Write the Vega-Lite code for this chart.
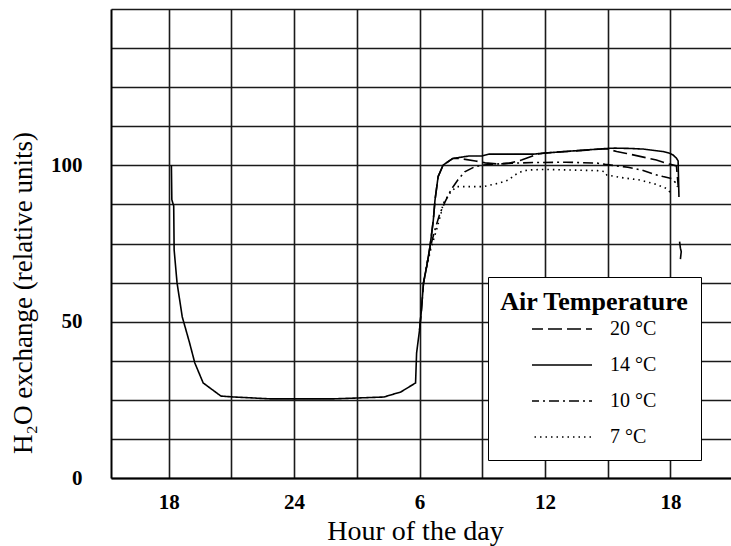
{
  "$schema": "https://vega.github.io/schema/vega-lite/v6.json",
  "width": 620,
  "height": 469,
  "autosize": {"type": "none"},
  "padding": {"left": 111, "top": 9, "right": 0, "bottom": 68},
  "background": "white",
  "config": {"view": {"stroke": null}, "font": "Liberation Serif"},
  "data": {"values": [
    {"i": 1, "h": 18.13, "v": 100.0, "temp": "14 °C", "seg": "a"},
    {"i": 2, "h": 18.15, "v": 89.0, "temp": "14 °C", "seg": "a"},
    {"i": 3, "h": 18.24, "v": 87.0, "temp": "14 °C", "seg": "a"},
    {"i": 4, "h": 18.26, "v": 73.0, "temp": "14 °C", "seg": "a"},
    {"i": 5, "h": 18.4, "v": 62.4, "temp": "14 °C", "seg": "a"},
    {"i": 6, "h": 18.65, "v": 51.5, "temp": "14 °C", "seg": "a"},
    {"i": 7, "h": 19.0, "v": 43.2, "temp": "14 °C", "seg": "a"},
    {"i": 8, "h": 19.25, "v": 36.8, "temp": "14 °C", "seg": "a"},
    {"i": 9, "h": 19.65, "v": 30.4, "temp": "14 °C", "seg": "a"},
    {"i": 10, "h": 20.5, "v": 26.2, "temp": "14 °C", "seg": "a"},
    {"i": 11, "h": 21.14, "v": 25.9, "temp": "14 °C", "seg": "a"},
    {"i": 12, "h": 22.9, "v": 25.3, "temp": "14 °C", "seg": "a"},
    {"i": 13, "h": 25.85, "v": 25.3, "temp": "14 °C", "seg": "a"},
    {"i": 14, "h": 28.29, "v": 25.9, "temp": "14 °C", "seg": "a"},
    {"i": 15, "h": 29.1, "v": 27.5, "temp": "14 °C", "seg": "a"},
    {"i": 16, "h": 29.81, "v": 30.4, "temp": "14 °C", "seg": "a"},
    {"i": 17, "h": 29.86, "v": 40.0, "temp": "14 °C", "seg": "a"},
    {"i": 18, "h": 30.0, "v": 47.3, "temp": "14 °C", "seg": "a"},
    {"i": 19, "h": 30.09, "v": 53.7, "temp": "14 °C", "seg": "a"},
    {"i": 20, "h": 30.19, "v": 62.4, "temp": "14 °C", "seg": "a"},
    {"i": 21, "h": 30.34, "v": 67.6, "temp": "14 °C", "seg": "a"},
    {"i": 22, "h": 30.5, "v": 74.0, "temp": "14 °C", "seg": "a"},
    {"i": 23, "h": 30.66, "v": 82.5, "temp": "14 °C", "seg": "a"},
    {"i": 24, "h": 30.74, "v": 88.9, "temp": "14 °C", "seg": "a"},
    {"i": 25, "h": 30.89, "v": 96.4, "temp": "14 °C", "seg": "a"},
    {"i": 26, "h": 31.13, "v": 100.1, "temp": "14 °C", "seg": "a"},
    {"i": 27, "h": 31.59, "v": 102.2, "temp": "14 °C", "seg": "a"},
    {"i": 28, "h": 32.38, "v": 103.0, "temp": "14 °C", "seg": "a"},
    {"i": 29, "h": 33.0, "v": 103.0, "temp": "14 °C", "seg": "a"},
    {"i": 30, "h": 33.33, "v": 103.6, "temp": "14 °C", "seg": "a"},
    {"i": 31, "h": 34.27, "v": 103.6, "temp": "14 °C", "seg": "a"},
    {"i": 32, "h": 35.48, "v": 103.6, "temp": "14 °C", "seg": "a"},
    {"i": 33, "h": 35.95, "v": 103.9, "temp": "14 °C", "seg": "a"},
    {"i": 34, "h": 36.72, "v": 104.3, "temp": "14 °C", "seg": "a"},
    {"i": 35, "h": 38.96, "v": 105.4, "temp": "14 °C", "seg": "a"},
    {"i": 36, "h": 39.33, "v": 105.5, "temp": "14 °C", "seg": "a"},
    {"i": 37, "h": 40.05, "v": 105.4, "temp": "14 °C", "seg": "a"},
    {"i": 38, "h": 40.71, "v": 105.2, "temp": "14 °C", "seg": "a"},
    {"i": 39, "h": 41.65, "v": 104.4, "temp": "14 °C", "seg": "a"},
    {"i": 40, "h": 41.95, "v": 103.9, "temp": "14 °C", "seg": "a"},
    {"i": 41, "h": 42.13, "v": 103.3, "temp": "14 °C", "seg": "a"},
    {"i": 42, "h": 42.29, "v": 102.3, "temp": "14 °C", "seg": "a"},
    {"i": 43, "h": 42.37, "v": 101.4, "temp": "14 °C", "seg": "a"},
    {"i": 44, "h": 42.41, "v": 89.9, "temp": "14 °C", "seg": "a"},
    {"i": 45, "h": 42.44, "v": 75.6, "temp": "14 °C", "seg": "b"},
    {"i": 46, "h": 42.48, "v": 73.5, "temp": "14 °C", "seg": "b"},
    {"i": 47, "h": 42.52, "v": 72.4, "temp": "14 °C", "seg": "b"},
    {"i": 48, "h": 42.48, "v": 70.0, "temp": "14 °C", "seg": "b"},
    {"i": 49, "h": 30.0, "v": 47.3, "temp": "20 °C", "seg": "a"},
    {"i": 50, "h": 30.09, "v": 53.7, "temp": "20 °C", "seg": "a"},
    {"i": 51, "h": 30.19, "v": 62.4, "temp": "20 °C", "seg": "a"},
    {"i": 52, "h": 30.34, "v": 67.6, "temp": "20 °C", "seg": "a"},
    {"i": 53, "h": 30.5, "v": 74.0, "temp": "20 °C", "seg": "a"},
    {"i": 54, "h": 30.66, "v": 82.5, "temp": "20 °C", "seg": "a"},
    {"i": 55, "h": 30.74, "v": 88.9, "temp": "20 °C", "seg": "a"},
    {"i": 56, "h": 30.89, "v": 96.4, "temp": "20 °C", "seg": "a"},
    {"i": 57, "h": 31.13, "v": 100.1, "temp": "20 °C", "seg": "a"},
    {"i": 58, "h": 31.59, "v": 102.2, "temp": "20 °C", "seg": "a"},
    {"i": 59, "h": 31.92, "v": 102.2, "temp": "20 °C", "seg": "a"},
    {"i": 60, "h": 32.67, "v": 101.4, "temp": "20 °C", "seg": "a"},
    {"i": 61, "h": 33.14, "v": 100.8, "temp": "20 °C", "seg": "a"},
    {"i": 62, "h": 33.8, "v": 100.4, "temp": "20 °C", "seg": "a"},
    {"i": 63, "h": 34.31, "v": 100.7, "temp": "20 °C", "seg": "a"},
    {"i": 64, "h": 34.88, "v": 101.7, "temp": "20 °C", "seg": "a"},
    {"i": 65, "h": 35.34, "v": 102.8, "temp": "20 °C", "seg": "a"},
    {"i": 66, "h": 35.67, "v": 103.6, "temp": "20 °C", "seg": "a"},
    {"i": 67, "h": 35.95, "v": 103.9, "temp": "20 °C", "seg": "a"},
    {"i": 68, "h": 36.72, "v": 104.3, "temp": "20 °C", "seg": "a"},
    {"i": 69, "h": 38.96, "v": 105.3, "temp": "20 °C", "seg": "a"},
    {"i": 70, "h": 39.43, "v": 104.4, "temp": "20 °C", "seg": "a"},
    {"i": 71, "h": 39.9, "v": 103.8, "temp": "20 °C", "seg": "a"},
    {"i": 72, "h": 40.38, "v": 103.1, "temp": "20 °C", "seg": "a"},
    {"i": 73, "h": 41.33, "v": 101.7, "temp": "20 °C", "seg": "a"},
    {"i": 74, "h": 41.95, "v": 100.4, "temp": "20 °C", "seg": "a"},
    {"i": 75, "h": 42.29, "v": 99.8, "temp": "20 °C", "seg": "a"},
    {"i": 76, "h": 42.38, "v": 93.0, "temp": "20 °C", "seg": "a"},
    {"i": 77, "h": 30.19, "v": 62.4, "temp": "10 °C", "seg": "a"},
    {"i": 78, "h": 30.4, "v": 70.0, "temp": "10 °C", "seg": "a"},
    {"i": 79, "h": 30.6, "v": 76.0, "temp": "10 °C", "seg": "a"},
    {"i": 80, "h": 30.78, "v": 80.4, "temp": "10 °C", "seg": "a"},
    {"i": 81, "h": 30.98, "v": 84.7, "temp": "10 °C", "seg": "a"},
    {"i": 82, "h": 31.22, "v": 88.3, "temp": "10 °C", "seg": "a"},
    {"i": 83, "h": 31.5, "v": 92.1, "temp": "10 °C", "seg": "a"},
    {"i": 84, "h": 31.83, "v": 95.3, "temp": "10 °C", "seg": "a"},
    {"i": 85, "h": 32.16, "v": 97.9, "temp": "10 °C", "seg": "a"},
    {"i": 86, "h": 32.63, "v": 99.5, "temp": "10 °C", "seg": "a"},
    {"i": 87, "h": 33.0, "v": 100.1, "temp": "10 °C", "seg": "a"},
    {"i": 88, "h": 33.61, "v": 100.4, "temp": "10 °C", "seg": "a"},
    {"i": 89, "h": 34.41, "v": 100.7, "temp": "10 °C", "seg": "a"},
    {"i": 90, "h": 35.5, "v": 100.9, "temp": "10 °C", "seg": "a"},
    {"i": 91, "h": 37.0, "v": 101.0, "temp": "10 °C", "seg": "a"},
    {"i": 92, "h": 38.5, "v": 100.7, "temp": "10 °C", "seg": "a"},
    {"i": 93, "h": 38.88, "v": 100.3, "temp": "10 °C", "seg": "a"},
    {"i": 94, "h": 39.35, "v": 99.9, "temp": "10 °C", "seg": "a"},
    {"i": 95, "h": 39.97, "v": 99.4, "temp": "10 °C", "seg": "a"},
    {"i": 96, "h": 40.62, "v": 98.5, "temp": "10 °C", "seg": "a"},
    {"i": 97, "h": 41.25, "v": 97.1, "temp": "10 °C", "seg": "a"},
    {"i": 98, "h": 41.65, "v": 96.4, "temp": "10 °C", "seg": "a"},
    {"i": 99, "h": 42.05, "v": 95.8, "temp": "10 °C", "seg": "a"},
    {"i": 100, "h": 42.29, "v": 94.2, "temp": "10 °C", "seg": "a"},
    {"i": 101, "h": 42.33, "v": 93.1, "temp": "10 °C", "seg": "a"},
    {"i": 102, "h": 30.34, "v": 67.6, "temp": "7 °C", "seg": "a"},
    {"i": 103, "h": 30.55, "v": 73.5, "temp": "7 °C", "seg": "a"},
    {"i": 104, "h": 30.81, "v": 79.3, "temp": "7 °C", "seg": "a"},
    {"i": 105, "h": 31.05, "v": 85.2, "temp": "7 °C", "seg": "a"},
    {"i": 106, "h": 31.13, "v": 87.8, "temp": "7 °C", "seg": "a"},
    {"i": 107, "h": 31.44, "v": 91.0, "temp": "7 °C", "seg": "a"},
    {"i": 108, "h": 31.76, "v": 93.2, "temp": "7 °C", "seg": "a"},
    {"i": 109, "h": 32.7, "v": 93.2, "temp": "7 °C", "seg": "a"},
    {"i": 110, "h": 33.08, "v": 93.2, "temp": "7 °C", "seg": "a"},
    {"i": 111, "h": 33.39, "v": 93.7, "temp": "7 °C", "seg": "a"},
    {"i": 112, "h": 33.79, "v": 94.3, "temp": "7 °C", "seg": "a"},
    {"i": 113, "h": 34.25, "v": 95.3, "temp": "7 °C", "seg": "a"},
    {"i": 114, "h": 34.55, "v": 96.9, "temp": "7 °C", "seg": "a"},
    {"i": 115, "h": 34.88, "v": 98.0, "temp": "7 °C", "seg": "a"},
    {"i": 116, "h": 35.19, "v": 98.5, "temp": "7 °C", "seg": "a"},
    {"i": 117, "h": 35.97, "v": 98.7, "temp": "7 °C", "seg": "a"},
    {"i": 118, "h": 38.51, "v": 98.3, "temp": "7 °C", "seg": "a"},
    {"i": 119, "h": 38.87, "v": 98.0, "temp": "7 °C", "seg": "a"},
    {"i": 120, "h": 38.96, "v": 96.9, "temp": "7 °C", "seg": "a"},
    {"i": 121, "h": 39.75, "v": 96.0, "temp": "7 °C", "seg": "a"},
    {"i": 122, "h": 40.54, "v": 95.3, "temp": "7 °C", "seg": "a"},
    {"i": 123, "h": 41.33, "v": 93.9, "temp": "7 °C", "seg": "a"},
    {"i": 124, "h": 41.81, "v": 92.6, "temp": "7 °C", "seg": "a"},
    {"i": 125, "h": 42.05, "v": 91.0, "temp": "7 °C", "seg": "a"}
  ]},
  "mark": {"type": "line", "color": "black", "strokeWidth": 1.6, "strokeCap": "butt"},
  "encoding": {
    "x": {
      "field": "h", "type": "quantitative",
      "scale": {"domain": [15.24, 44.9], "nice": false, "zero": false},
      "axis": {
        "values": [18, 21, 24, 27, 30, 33, 36, 39, 42],
        "labelExpr": "datum.value == 24 ? '24' : (datum.value % 6 == 0 ? format(datum.value % 24, 'd') : '')",
        "title": "Hour of the day",
        "grid": true, "gridColor": "#1a1a1a", "gridWidth": 1.6, "gridOpacity": 1,
        "domainColor": "black", "domainWidth": 2,
        "ticks": false,
        "labelFont": "Liberation Serif", "labelFontSize": 21, "labelFontWeight": "bold", "labelColor": "black",
        "labelPadding": 13, "labelOverlap": false,
        "titleFont": "Liberation Serif", "titleFontSize": 28, "titleFontWeight": "normal", "titleColor": "black",
        "titleX": 304, "titleY": 61, "titleBaseline": "alphabetic", "titleAlign": "center"
      }
    },
    "y": {
      "field": "v", "type": "quantitative",
      "scale": {"domain": [0, 150], "nice": false},
      "axis": {
        "values": [0, 12.5, 25, 37.5, 50, 62.5, 75, 87.5, 100, 112.5, 125, 137.5, 150],
        "labelExpr": "datum.value == 0 || datum.value == 50 || datum.value == 100 ? datum.label : ''",
        "title": "H₂O exchange (relative units)",
        "grid": true, "gridColor": "#1a1a1a", "gridWidth": 1.6, "gridOpacity": 1,
        "domainColor": "black", "domainWidth": 2,
        "ticks": false,
        "labelFont": "Liberation Serif", "labelFontSize": 21, "labelFontWeight": "bold", "labelColor": "black",
        "labelPadding": 29, "labelOverlap": false,
        "titleFont": "Liberation Serif", "titleFontSize": 27, "titleFontWeight": "normal", "titleColor": "black",
        "titleX": -80, "titleY": 283.5, "titleBaseline": "alphabetic", "titleAlign": "center", "titleAngle": -90
      }
    },
    "strokeDash": {
      "field": "temp", "type": "nominal",
      "scale": {"domain": ["20 °C", "14 °C", "10 °C", "7 °C"], "range": [[14, 5], [1, 0], [10, 4, 2, 4], [1.5, 4]]},
      "legend": {
        "orient": "none", "legendX": 377, "legendY": 268,
        "title": "Air Temperature", "titleLimit": 400,
        "titleFont": "Liberation Serif", "titleFontSize": 26, "titleFontWeight": "bold", "titleColor": "black", "titleAnchor": "middle",
        "titlePadding": 3,
        "labelFont": "Liberation Serif", "labelFontSize": 20, "labelColor": "black",
        "symbolType": "stroke", "symbolSize": 3969, "symbolStrokeWidth": 1.6, "symbolStrokeColor": "black",
        "clipHeight": 22,
        "strokeColor": "black", "fillColor": "white", "padding": 12,
        "rowPadding": 14, "labelOffset": 17, "symbolOffset": -4
      }
    },
    "detail": {"field": "seg", "type": "nominal"},
    "order": {"field": "i", "type": "quantitative"}
  }
}
